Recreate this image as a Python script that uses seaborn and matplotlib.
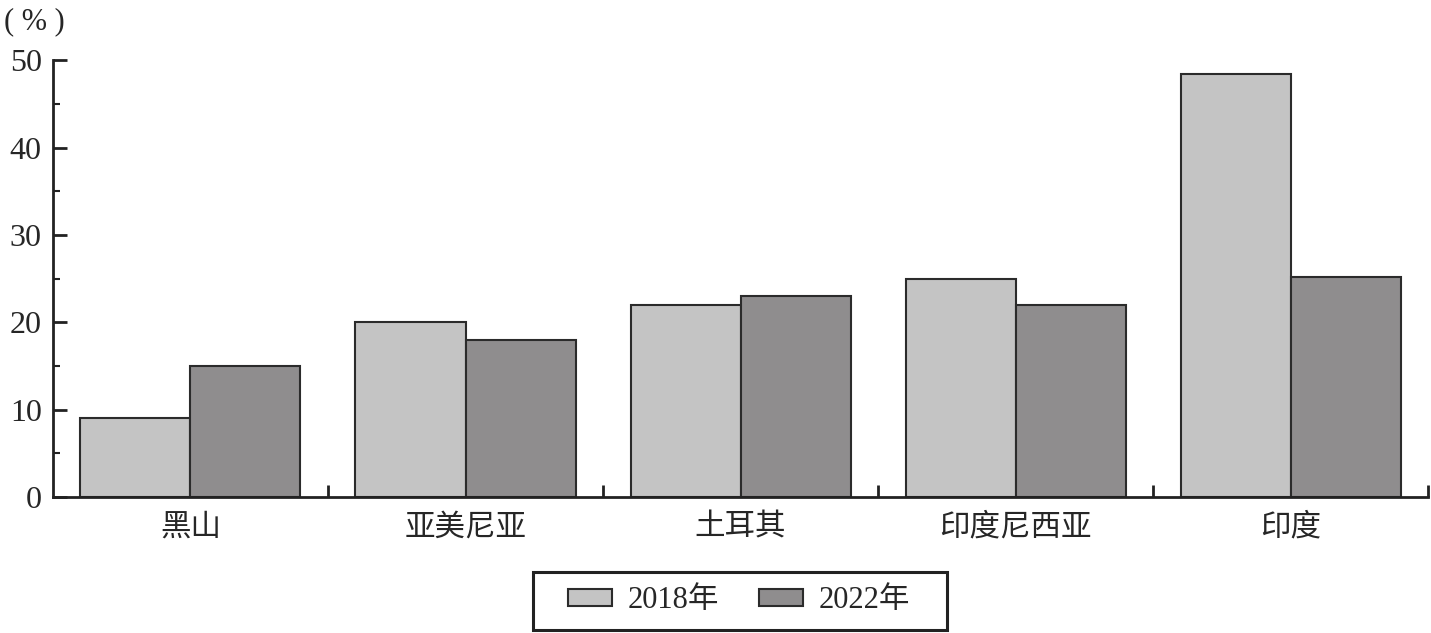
import pandas as pd
import seaborn as sns
import matplotlib.pyplot as plt
from matplotlib.patches import Rectangle
from matplotlib.ticker import MultipleLocator, FixedLocator, NullFormatter

countries = ["黑山", "亚美尼亚", "土耳其", "印度尼西亚", "印度"]
years = ["2018年", "2022年"]
v2018 = [9, 20, 22, 25, 48.4]
v2022 = [15, 18, 23, 22, 25.2]
colors = ["#c4c4c4", "#8f8d8e"]

df = pd.DataFrame({
    "country": countries * 2,
    "year": [years[0]] * len(countries) + [years[1]] * len(countries),
    "value": v2018 + v2022,
})

sns.set_style("ticks")
plt.rcParams["font.family"] = ["Liberation Serif", "Noto Sans CJK SC"]
plt.rcParams["xtick.direction"] = "in"
plt.rcParams["ytick.direction"] = "in"

fig = plt.figure(figsize=(14.31, 6.33), dpi=100)
ax = fig.add_axes([0.037, 0.2149, 0.961, 0.690])

sns.barplot(data=df, x="country", y="value", hue="year", palette=colors,
            width=0.8, gap=0, edgecolor="#2b2b2b", linewidth=1.5, ax=ax)

ax.set_xlim(-0.5, len(countries) - 0.5)
ax.set_ylim(0, 50)
ax.yaxis.set_major_locator(MultipleLocator(10))
ax.yaxis.set_minor_locator(MultipleLocator(5))
ax.set_xlabel("")
ax.set_ylabel("")

# category labels without ticks, boundary ticks pointing inward (up)
ax.tick_params(axis="x", which="major", length=0, labelsize=22, pad=12)
ax.xaxis.set_minor_locator(FixedLocator([i + 0.5 for i in range(len(countries))]))
ax.xaxis.set_minor_formatter(NullFormatter())
ax.tick_params(axis="x", which="minor", direction="in", length=9, width=2, color="#222222")
ax.tick_params(axis="y", which="major", direction="in", length=10, width=2,
               labelsize=23, pad=8, color="#222222")
ax.tick_params(axis="y", which="minor", direction="in", length=5, width=1.5, color="#222222")

sns.despine(ax=ax)
for side in ["left", "bottom"]:
    ax.spines[side].set_linewidth(2)
    ax.spines[side].set_color("#222222")

fig.text(0.003, 0.965, "( % )", fontsize=22, ha="left", va="center")

handles, labels = ax.get_legend_handles_labels()
ax.legend_.remove()
fig.legend(handles, labels, loc="center", bbox_to_anchor=(0.5164, 0.0506),
           ncol=2, fontsize=22, frameon=False,
           handlelength=1.45, handleheight=0.45,
           handletextpad=0.5, columnspacing=1.3, borderpad=0.2)
# legend frame drawn separately: wider horizontal padding than vertical
fig.patches.append(Rectangle((533 / 1431, 3 / 633), 414 / 1431, 58 / 633,
                             transform=fig.transFigure, fill=False,
                             edgecolor="#222222", linewidth=2.2))

fig.savefig("out.png", dpi=100)
